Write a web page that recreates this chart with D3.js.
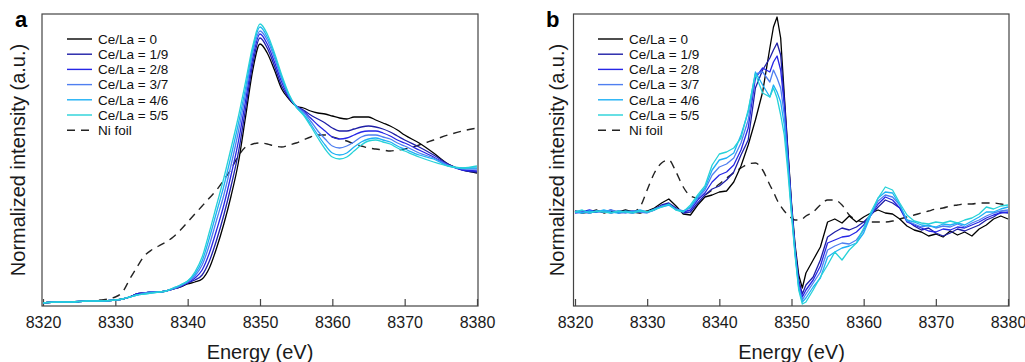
<!DOCTYPE html>
<html>
<head>
<meta charset="utf-8">
<script src="https://cdn.jsdelivr.net/npm/d3@7/dist/d3.min.js"></script>
<style>
    body { margin: 0; background: #fff; }
    svg { display: block; font-family: Arial, "Liberation Sans", Helvetica, sans-serif; }
</style>
</head>
<body>
<div id="chart"></div>
<script>

//******************************************************************************
//**  Data
//******************************************************************************
    var seriesNames = ["Ce/La = 0", "Ce/La = 1/9", "Ce/La = 2/8", "Ce/La = 3/7", "Ce/La = 4/6", "Ce/La = 5/5"];
    var refName = "Ni foil";
    var energyTicks = [8320, 8330, 8340, 8350, 8360, 8370, 8380];

  //Panel a: normalized XANES
    var energyA = [8320, 8322, 8324, 8326, 8328, 8330, 8331, 8332, 8333, 8334, 8335, 8336, 8337,
        8338, 8339, 8340, 8341, 8342, 8343, 8344, 8345, 8346, 8347, 8348, 8349, 8350,
        8351, 8352, 8353, 8354, 8355, 8356, 8357, 8358, 8359, 8360, 8361, 8362, 8363,
        8364, 8365, 8366, 8367, 8368, 8369, 8370, 8372, 8374, 8376, 8378, 8380];

    var xanesA0 = [0.00, 0.01, 0.01, 0.02, 0.02, 0.03, 0.04, 0.06, 0.09, 0.10, 0.11, 0.11, 0.12,
        0.14, 0.16, 0.19, 0.21, 0.24, 0.35, 0.55, 0.79, 1.07, 1.40, 1.86, 2.33, 2.59,
        2.50, 2.33, 2.14, 2.04, 1.97, 1.95, 1.92, 1.90, 1.89, 1.87, 1.85, 1.84, 1.86,
        1.86, 1.86, 1.83, 1.80, 1.77, 1.73, 1.68, 1.60, 1.50, 1.39, 1.33, 1.30];
    var xanesA1 = [0.00, 0.01, 0.01, 0.02, 0.02, 0.03, 0.04, 0.06, 0.09, 0.10, 0.11, 0.11, 0.12,
        0.14, 0.16, 0.20, 0.23, 0.28, 0.42, 0.63, 0.88, 1.17, 1.50, 1.94, 2.39, 2.65,
        2.55, 2.37, 2.17, 2.05, 1.97, 1.93, 1.88, 1.84, 1.80, 1.75, 1.72, 1.72, 1.74,
        1.76, 1.77, 1.76, 1.74, 1.71, 1.67, 1.63, 1.56, 1.48, 1.39, 1.33, 1.31];
    var xanesA2 = [0.00, 0.01, 0.01, 0.02, 0.02, 0.03, 0.04, 0.06, 0.09, 0.10, 0.11, 0.11, 0.12,
        0.14, 0.17, 0.20, 0.25, 0.33, 0.50, 0.73, 0.98, 1.28, 1.61, 2.02, 2.45, 2.69,
        2.59, 2.41, 2.21, 2.06, 1.97, 1.92, 1.85, 1.78, 1.72, 1.66, 1.64, 1.65, 1.68,
        1.71, 1.72, 1.72, 1.70, 1.67, 1.63, 1.60, 1.53, 1.46, 1.38, 1.33, 1.32];
    var xanesA3 = [0.00, 0.01, 0.01, 0.02, 0.02, 0.03, 0.04, 0.06, 0.08, 0.10, 0.11, 0.11, 0.12,
        0.14, 0.17, 0.21, 0.27, 0.38, 0.58, 0.83, 1.08, 1.38, 1.71, 2.09, 2.50, 2.72,
        2.63, 2.45, 2.24, 2.07, 1.97, 1.91, 1.82, 1.72, 1.64, 1.57, 1.55, 1.57, 1.61,
        1.66, 1.68, 1.68, 1.66, 1.64, 1.60, 1.57, 1.50, 1.45, 1.38, 1.34, 1.34];
    var xanesA4 = [0.00, 0.01, 0.01, 0.02, 0.02, 0.03, 0.04, 0.06, 0.08, 0.09, 0.10, 0.11, 0.12,
        0.15, 0.18, 0.22, 0.29, 0.42, 0.65, 0.91, 1.17, 1.47, 1.79, 2.15, 2.54, 2.76,
        2.66, 2.48, 2.26, 2.08, 1.96, 1.89, 1.79, 1.68, 1.58, 1.50, 1.48, 1.50, 1.56,
        1.61, 1.64, 1.65, 1.63, 1.61, 1.57, 1.54, 1.48, 1.44, 1.37, 1.35, 1.35];
    var xanesA5 = [0.00, 0.01, 0.01, 0.02, 0.02, 0.03, 0.04, 0.06, 0.08, 0.09, 0.10, 0.11, 0.12,
        0.15, 0.18, 0.22, 0.31, 0.46, 0.71, 0.98, 1.25, 1.55, 1.86, 2.21, 2.57, 2.79,
        2.69, 2.50, 2.28, 2.09, 1.96, 1.88, 1.77, 1.65, 1.54, 1.46, 1.44, 1.46, 1.52,
        1.58, 1.62, 1.63, 1.61, 1.59, 1.55, 1.52, 1.46, 1.41, 1.37, 1.35, 1.37];
    var niFoilA = [0.00, 0.01, 0.01, 0.02, 0.03, 0.06, 0.11, 0.24, 0.36, 0.47, 0.53, 0.57, 0.61,
        0.66, 0.73, 0.81, 0.89, 0.97, 1.05, 1.13, 1.23, 1.34, 1.47, 1.56, 1.59, 1.60,
        1.59, 1.57, 1.56, 1.58, 1.60, 1.63, 1.66, 1.68, 1.68, 1.66, 1.64, 1.62, 1.59,
        1.57, 1.55, 1.54, 1.53, 1.52, 1.53, 1.54, 1.58, 1.63, 1.68, 1.72, 1.75];

  //Panel b: first derivative
    var energyB = [8320, 8321, 8322, 8323, 8324, 8325, 8326, 8327, 8328, 8329,
        8330, 8331, 8332, 8333, 8334, 8335, 8336, 8337, 8338, 8339,
        8340, 8341, 8342, 8343, 8344, 8345, 8346, 8347, 8347.5, 8348,
        8348.5, 8349, 8349.5, 8350, 8350.5, 8351, 8351.5, 8352, 8353, 8354,
        8355, 8356, 8357, 8358, 8359, 8360, 8361, 8362, 8363, 8364,
        8365, 8366, 8367, 8368, 8369, 8370, 8371, 8372, 8373, 8374,
        8375, 8376, 8377, 8378, 8379, 8380];

    var derivB0 = [0.01, -0.01, 0.00, 0.02, -0.01, 0.01, 0.00, 0.02, 0.00, -0.01,
        0.01, 0.04, 0.09, 0.13, 0.06, -0.02, -0.03, 0.07, 0.15, 0.17,
        0.20, 0.21, 0.30, 0.46, 0.67, 0.92, 1.20, 1.64, 1.85, 1.95,
        1.74, 1.17, 0.62, 0.09, -0.33, -0.63, -0.76, -0.61, -0.48, -0.35,
        -0.10, -0.07, -0.11, -0.04, -0.10, -0.05, -0.01, 0.02, -0.01, -0.02,
        -0.07, -0.14, -0.18, -0.20, -0.24, -0.22, -0.25, -0.19, -0.23, -0.20,
        -0.24, -0.17, -0.13, -0.07, -0.04, -0.07];
    var derivB1 = [0.00, 0.01, -0.01, 0.01, 0.00, 0.02, -0.01, 0.00, 0.01, 0.00,
        0.00, 0.03, 0.07, 0.09, 0.04, -0.01, 0.00, 0.09, 0.17, 0.23,
        0.26, 0.32, 0.40, 0.57, 0.72, 1.24, 1.42, 1.54, 1.62, 1.69,
        1.57, 1.12, 0.60, 0.07, -0.36, -0.68, -0.82, -0.73, -0.65, -0.48,
        -0.25, -0.20, -0.16, -0.18, -0.15, -0.10, -0.03, 0.05, 0.12, 0.09,
        0.04, -0.08, -0.14, -0.18, -0.16, -0.21, -0.24, -0.21, -0.17, -0.19,
        -0.16, -0.13, -0.08, -0.05, 0.00, -0.01];
    var derivB2 = [-0.01, 0.00, 0.02, 0.00, 0.01, -0.01, 0.01, 0.00, -0.01, 0.01,
        0.00, 0.02, 0.06, 0.08, 0.03, 0.00, 0.02, 0.12, 0.19, 0.30,
        0.37, 0.40, 0.47, 0.62, 0.84, 1.34, 1.44, 1.40, 1.50, 1.56,
        1.42, 1.07, 0.57, 0.05, -0.38, -0.71, -0.85, -0.78, -0.68, -0.54,
        -0.31, -0.28, -0.25, -0.24, -0.20, -0.13, -0.03, 0.08, 0.15, 0.12,
        0.04, -0.10, -0.13, -0.16, -0.19, -0.20, -0.17, -0.18, -0.15, -0.16,
        -0.13, -0.10, -0.06, -0.03, -0.01, 0.00];
    var derivB3 = [0.01, 0.00, -0.01, 0.01, 0.00, 0.02, 0.00, -0.01, 0.01, 0.00,
        -0.01, 0.02, 0.06, 0.07, 0.03, 0.01, 0.04, 0.14, 0.22, 0.37,
        0.45, 0.48, 0.54, 0.69, 0.92, 1.38, 1.40, 1.30, 1.42, 1.34,
        1.24, 0.97, 0.52, 0.02, -0.40, -0.74, -0.88, -0.82, -0.71, -0.60,
        -0.38, -0.34, -0.31, -0.32, -0.28, -0.18, -0.03, 0.11, 0.17, 0.15,
        0.07, -0.09, -0.12, -0.15, -0.13, -0.16, -0.14, -0.15, -0.12, -0.15,
        -0.11, -0.08, -0.04, -0.01, 0.01, 0.02];
    var derivB4 = [0.00, -0.01, 0.01, 0.00, 0.02, 0.00, -0.01, 0.01, 0.00, 0.02,
        0.00, 0.03, 0.05, 0.07, 0.02, 0.01, 0.05, 0.15, 0.24, 0.42,
        0.52, 0.54, 0.59, 0.77, 1.00, 1.40, 1.27, 1.15, 1.27, 1.20,
        1.10, 0.87, 0.47, 0.00, -0.42, -0.76, -0.90, -0.86, -0.75, -0.66,
        -0.45, -0.40, -0.36, -0.34, -0.31, -0.21, -0.03, 0.14, 0.20, 0.19,
        0.07, -0.08, -0.10, -0.13, -0.14, -0.15, -0.12, -0.13, -0.11, -0.13,
        -0.09, -0.05, 0.00, 0.00, 0.03, 0.05];
    var derivB5 = [0.00, 0.02, -0.01, 0.01, 0.00, -0.01, 0.01, 0.00, -0.01, 0.01,
        0.00, 0.02, 0.05, 0.08, 0.02, 0.00, 0.07, 0.17, 0.26, 0.47,
        0.58, 0.60, 0.64, 0.74, 1.02, 1.38, 1.19, 1.15, 1.24, 1.14,
        0.97, 0.77, 0.40, -0.03, -0.44, -0.78, -0.92, -0.90, -0.78, -0.65,
        -0.53, -0.40, -0.48, -0.38, -0.31, -0.16, 0.00, 0.14, 0.25, 0.22,
        0.09, -0.03, -0.09, -0.11, -0.12, -0.10, -0.11, -0.09, -0.11, -0.08,
        -0.06, -0.02, 0.05, 0.03, 0.06, 0.07];
    var niFoilB = [0.00, 0.00, 0.00, 0.00, 0.00, 0.00, 0.00, 0.00, 0.00, 0.05,
        0.22, 0.39, 0.49, 0.52, 0.40, 0.25, 0.16, 0.14, 0.17, 0.22,
        0.28, 0.34, 0.39, 0.44, 0.48, 0.49, 0.42, 0.27, 0.20, 0.12,
        0.06, 0.01, -0.03, -0.06, -0.08, -0.08, -0.07, -0.04, 0.00, 0.07,
        0.12, 0.12, 0.07, -0.03, -0.08, -0.10, -0.10, -0.10, -0.10, -0.09,
        -0.07, -0.05, -0.03, -0.01, 0.01, 0.03, 0.04, 0.06, 0.07, 0.08,
        0.08, 0.09, 0.09, 0.09, 0.08, 0.07];


//******************************************************************************
//**  Styles
//******************************************************************************
    var colors = ["#000000", "#1e1ea6", "#2626e6", "#4f7ff0", "#1eb0f5", "#26d2d8"];
    var refColor = "#222222";
    var dash = "8,6";


    var svg = d3.select("#chart").append("svg")
        .attr("width", 1025)
        .attr("height", 362);


  //**************************************************************************
  //** drawPanel
  //**************************************************************************
    var drawPanel = function(p){

        var g = svg.append("g");

        var x = d3.scaleLinear().domain([8320, 8380]).range(p.xRange);
        var y = d3.scaleLinear().domain(p.yDomain).range([306, 14]);


      //Axis with inward ticks
        var axis = d3.axisBottom(x)
            .tickValues(energyTicks)
            .tickSize(-7)
            .tickPadding(10)
            .tickFormat(d3.format("d"));

        var ax = g.append("g")
            .attr("transform", "translate(0,306)")
            .call(axis);
        ax.select(".domain").remove();
        ax.selectAll(".tick line").attr("stroke", "#444").attr("stroke-width", 1.2);
        ax.selectAll(".tick text")
            .attr("fill", "#1a1a1a")
            .style("font-size", "16px")
            .attr("y", 11)
            .attr("dy", "0.71em");


      //Curves
        var line = function(values, curve){
            return d3.line()
                .x(function(d, i){ return x(p.energy[i]); })
                .y(function(d){ return y(d); })
                .curve(curve)(values);
        };

        g.append("path")
            .attr("d", line(p.ref, p.refCurve))
            .attr("fill", "none")
            .attr("stroke", refColor)
            .attr("stroke-width", 1.4)
            .attr("stroke-dasharray", dash);

        p.series.forEach(function(values, i){
            g.append("path")
                .attr("d", line(values, p.curve))
                .attr("fill", "none")
                .attr("stroke", colors[i])
                .attr("stroke-width", 1.3)
                .attr("stroke-linejoin", "round");
        });


      //Frame
        g.append("rect")
            .attr("x", p.frame[0])
            .attr("y", 14)
            .attr("width", p.frame[1] - p.frame[0])
            .attr("height", 292)
            .attr("fill", "none")
            .attr("stroke", "#444")
            .attr("stroke-width", 1.2);


      //Legend
        var names = seriesNames.concat([refName]);
        names.forEach(function(name, i){
            var ly = 39 + i * 15.2;
            var isRef = (i === names.length - 1);
            g.append("line")
                .attr("x1", p.legendX)
                .attr("x2", p.legendX + (isRef ? 22 : 25))
                .attr("y1", ly)
                .attr("y2", ly)
                .attr("stroke", isRef ? refColor : colors[i])
                .attr("stroke-width", 1.4)
                .attr("stroke-dasharray", isRef ? dash : null);
            g.append("text")
                .attr("x", p.legendX + 31)
                .attr("y", ly)
                .attr("dy", "0.35em")
                .attr("fill", "#111")
                .style("font-size", "13.5px")
                .text(name);
        });


      //Titles
        g.append("text")
            .attr("x", (p.xRange[0] + p.xRange[1]) / 2)
            .attr("y", 359)
            .attr("text-anchor", "middle")
            .attr("fill", "#1a1a1a")
            .style("font-size", "20px")
            .text("Energy (eV)");

        g.append("text")
            .attr("transform", "translate(" + p.yTitleX + ",160) rotate(-90)")
            .attr("text-anchor", "middle")
            .attr("dy", "0.35em")
            .attr("fill", "#1a1a1a")
            .style("font-size", "20px")
            .text("Normalized intensity (a.u.)");

        g.append("text")
            .attr("x", p.labelX)
            .attr("y", 27)
            .attr("fill", "#000")
            .style("font-size", "22px")
            .style("font-weight", "bold")
            .text(p.label);
    };


    drawPanel({
        label: "a",
        labelX: 15,
        yTitleX: 18,
        frame: [42, 478],
        xRange: [43, 477],
        yDomain: [-0.03, 2.89],
        energy: energyA,
        series: [xanesA0, xanesA1, xanesA2, xanesA3, xanesA4, xanesA5],
        ref: niFoilA,
        curve: d3.curveMonotoneX,
        refCurve: d3.curveMonotoneX,
        legendX: 67
    });

    drawPanel({
        label: "b",
        labelX: 546,
        yTitleX: 557,
        frame: [573.5, 1009],
        xRange: [575, 1008],
        yDomain: [-0.94, 1.98],
        energy: energyB,
        series: [derivB0, derivB1, derivB2, derivB3, derivB4, derivB5],
        ref: niFoilB,
        curve: d3.curveLinear,
        refCurve: d3.curveMonotoneX,
        legendX: 598
    });

</script>
</body>
</html>
